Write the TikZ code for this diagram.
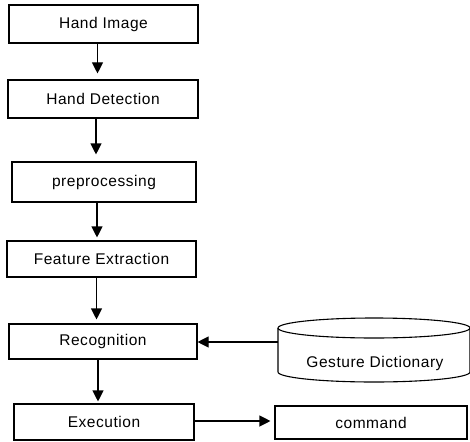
\documentclass[tikz,border=0pt]{standalone}
\usepackage{fontspec}
\setmainfont[LetterSpace=3.5]{Liberation Sans}
\usetikzlibrary{arrows.meta}
\begin{document}
\begin{tikzpicture}[x=1pt,y=-1pt,
  box/.style={draw,line width=1.1pt,inner sep=0pt,font=\fontsize{15.5}{18}\selectfont},
  arr/.style={line width=1.1pt,-{Triangle[width=11pt,length=11pt]}}]
\useasboundingbox (0,0) rectangle (470,441);
\node[box,minimum width=189pt,minimum height=38pt] (b1) at (103.5,24) {Hand Image};
\node[box,minimum width=190pt,minimum height=38pt] (b2) at (103,99) {Hand Detection};
\node[box,minimum width=184pt,minimum height=40pt] (b3) at (104,182) {preprocessing};
\node[box,minimum width=189pt,minimum height=36pt] (b4) at (101.5,259) {Feature Extraction};
\node[box,minimum width=188pt,minimum height=35pt] (b5) at (103,341.5) {Recognition};
\node[box,minimum width=180pt,minimum height=36pt] (b6) at (104,422) {Execution};
\node[box,minimum width=192pt,minimum height=33pt] (b7) at (371,422.5) {command};
% cylinder
\draw[line width=1.1pt] (278,328) -- (278,372)
  arc[start angle=180,end angle=360,x radius=96pt,y radius=10pt] -- (470,328);
\draw[line width=1.1pt] (374,328) ellipse[x radius=96pt,y radius=10pt];
\node[font=\fontsize{15.5}{18}\selectfont] (gd) at (375,363) {Gesture Dictionary};
\coordinate (gdl) at (278,342);
% arrows
\draw[arr,shorten >=6pt] ([xshift=-6pt]b1.south) -- ([xshift=-6pt]b1.south |- b2.north);
\draw[arr,shorten >=7pt] ([xshift=-7pt]b2.south) -- ([xshift=-7pt]b2.south |- b3.north);
\draw[arr,shorten >=3pt] ([xshift=-7pt]b3.south) -- ([xshift=-7pt]b3.south |- b4.north);
\draw[arr,shorten >=4pt] ([xshift=-5pt]b4.south) -- ([xshift=-5pt]b4.south |- b5.north);
\draw[arr,shorten >=2pt] ([xshift=-5pt]b5.south) -- ([xshift=-5pt]b5.south |- b6.north);
\draw[arr] (gdl) -- (gdl -| b5.east);
\draw[arr,shorten >=4pt] ([yshift=1pt]b6.east) -- ([yshift=1pt]b6.east -| b7.west);
\end{tikzpicture}
\end{document}
